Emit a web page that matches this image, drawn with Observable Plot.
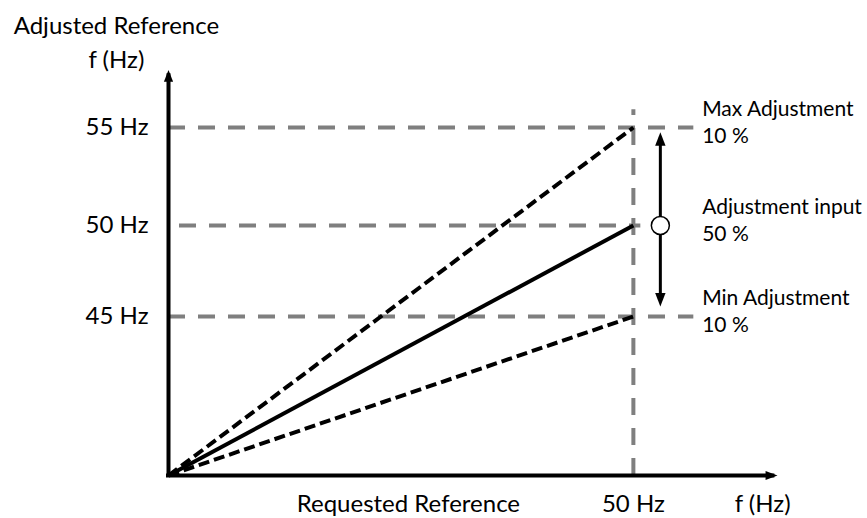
<!DOCTYPE html>
<html>
<head>
<meta charset="utf-8">
<script src="https://cdn.jsdelivr.net/npm/d3@7"></script>
<script src="https://cdn.jsdelivr.net/npm/@observablehq/plot@0.6"></script>
<style>
  body { margin: 0; background: #ffffff; }
  #chart svg { display: block; }
</style>
</head>
<body>
<div id="chart"></div>
<script>
// ---- Chart values (schematic) ----
const yTicks = [45, 50, 55];                 // adjusted reference tick values (Hz)
const xTicks = [50];                         // requested reference tick (Hz)
const requestedHz = 50;                      // requested reference where lines end
const adjustedHz = [55, 50, 45];             // max / input / min adjusted frequency
const adjustedDashed = [true, false, true];  // line style per series
const sideLabels = ["Max Adjustment\n10 %", "Adjustment input\n50 %", "Min Adjustment\n10 %"];
const guideEnds = [56.5, 50.8, 56.5];        // extent of the grey horizontal guides (Hz)
const guideTop = 55.9;                       // extent of the grey vertical guide (Hz)
const xAxisEnd = 65.5;                       // x-axis arrow tip (Hz)
const yAxisEnd = 57.94;                      // y-axis arrow tip (Hz)
const rangeArrowX = [52.9];                  // position of the adjustment arrow (Hz)
const rangeArrowEnds = [54.76, 45.55];       // top / bottom tips of adjustment arrow (Hz)
const inputHz = [50];                        // adjustment input marker
const sideLabelX = [57.4];
const yTitle = ["Adjusted Reference\nf (Hz)"];
const yTitlePos = [-5.6, 61.0];
const bottomLabels = ["Requested Reference", "f (Hz)"];
const bottomLabelX = [25.8, 63.9];

// ---- helpers ----
const FONT = "Lato, 'Open Sans', sans-serif";
function head(dx, dy) {
  // filled arrowhead with its tip at the data point, pointing along (dx, dy)
  return {
    draw(context, size) {
      const r = Math.sqrt(size / Math.PI);
      const L = 2.6 * r;
      const px = -dy, py = dx; // perpendicular
      context.moveTo(0, 0);
      context.lineTo(-dx * L + px * r, -dy * L + py * r);
      context.lineTo(-dx * L - px * r, -dy * L - py * r);
      context.closePath();
    }
  };
}

const series = adjustedHz.map((v, i) => ({v, dashed: adjustedDashed[i], label: sideLabels[i], guideEnd: guideEnds[i]}));
const guideStyle = {stroke: "#7f7f7f", strokeWidth: 4, strokeDasharray: "17,13"};

const chart = Plot.plot({
  width: 867,
  height: 518,
  marginLeft: 168,
  marginRight: 90,
  marginTop: 70,
  marginBottom: 43,
  x: {domain: [0, xAxisEnd]},
  y: {type: "linear", domain: [0, 45, 50, 55], range: [475, 316, 225, 127]},
  style: {fontFamily: FONT, fontSize: "24px", color: "black", background: "white", overflow: "visible"},
  marks: [
    // grey guides
    Plot.ruleY(series.filter(d => d.dashed), {y: "v", x1: 0, x2: "guideEnd", ...guideStyle}),
    Plot.ruleY(series.filter(d => !d.dashed), {y: "v", x1: 0, x2: "guideEnd", ...guideStyle, strokeDashoffset: 19}),
    Plot.ruleX([requestedHz], {x: d => d, y1: 0, y2: guideTop, ...guideStyle}),
    // adjusted reference lines
    Plot.link(series.filter(d => d.dashed), {x1: 0, y1: 0, x2: requestedHz, y2: "v", stroke: "black", strokeWidth: 4, strokeDasharray: "11,5"}),
    Plot.link(series.filter(d => !d.dashed), {x1: 0, y1: 0, x2: requestedHz, y2: "v", stroke: "black", strokeWidth: 4}),
    // axes lines with arrowheads
    Plot.ruleX([0], {x: d => d, y1: 0, y2: yAxisEnd - 0.3, stroke: "black", strokeWidth: 4, strokeLinecap: "square"}),
    Plot.ruleY([0], {y: d => d, x1: 0, x2: xAxisEnd - 0.5, stroke: "black", strokeWidth: 4, strokeLinecap: "square"}),
    Plot.dot([yAxisEnd], {x: 0, y: d => d, r: 4.6, symbol: head(0, -1), fill: "black", stroke: "none"}),
    Plot.dot([xAxisEnd], {x: d => d, y: 0, r: 4.6, symbol: head(1, 0), fill: "black", stroke: "none"}),
    // adjustment double arrow
    Plot.ruleX(rangeArrowX, {x: d => d, y1: rangeArrowEnds[0] - 0.3, y2: rangeArrowEnds[1] + 0.3, stroke: "black", strokeWidth: 3}),
    Plot.dot([rangeArrowEnds[0]], {x: rangeArrowX[0], y: d => d, r: 5.2, symbol: head(0, -1), fill: "black", stroke: "none"}),
    Plot.dot([rangeArrowEnds[1]], {x: rangeArrowX[0], y: d => d, r: 5.2, symbol: head(0, 1), fill: "black", stroke: "none"}),
    Plot.dot(inputHz, {x: rangeArrowX[0], y: d => d, r: 9, fill: "white", stroke: "black", strokeWidth: 1.5}),
    // axes tick labels
    Plot.axisY({ticks: yTicks, tickSize: 0, tickPadding: 20, tickFormat: d => `${d} Hz`, label: null, fontSize: 24}),
    Plot.axisX({ticks: xTicks, tickSize: 0, tickPadding: 19, tickFormat: d => `${d} Hz`, label: null, fontSize: 24}),
    // texts
    Plot.text(yTitle, {x: yTitlePos[0], y: yTitlePos[1], text: d => d, lineAnchor: "top", lineHeight: 1.417, fontSize: 24, textAnchor: "middle"}),
    Plot.text(bottomLabels, {x: (d, i) => bottomLabelX[i], y: 0, text: d => d, lineAnchor: "top", dy: 19, fontSize: 24, textAnchor: "middle"}),
    Plot.text(series, {x: sideLabelX[0], y: "v", text: "label", lineAnchor: "middle", lineHeight: 1.29, dy: -7, fontSize: 21, textAnchor: "start"})
  ]
});
document.getElementById("chart").appendChild(chart);
</script>
</body>
</html>
